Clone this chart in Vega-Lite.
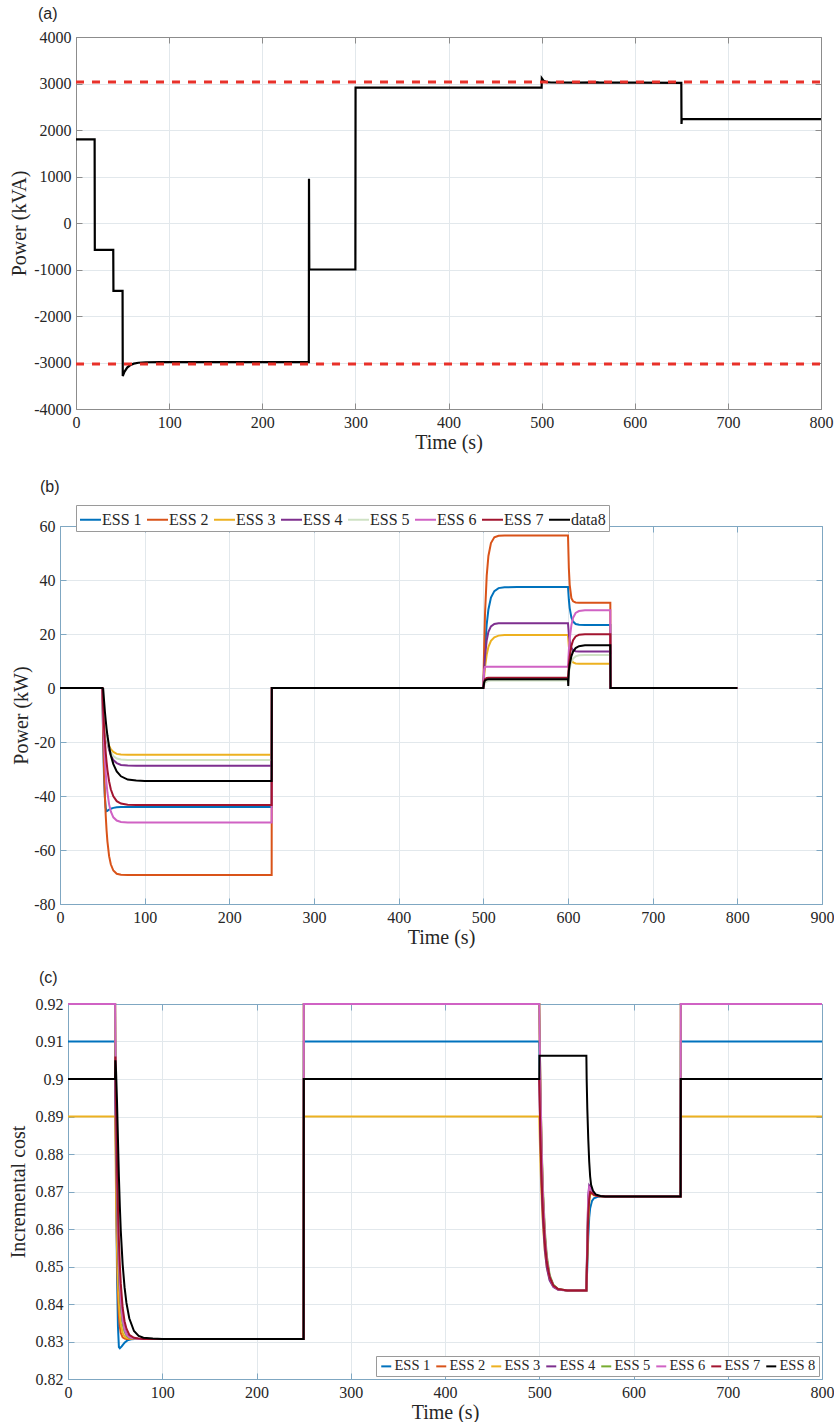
{
  "$schema": "https://vega.github.io/schema/vega-lite/v6.json",
  "padding": {"left": 8, "top": 6, "right": 0, "bottom": 0},
  "config": {
    "font": "Liberation Serif",
    "view": {"stroke": null},
    "axis": {"labelFont": "Liberation Serif", "labelFontSize": 16, "labelColor": "#262626", "titleFont": "Liberation Serif", "titleFontSize": 20, "titleFontWeight": "normal", "titleColor": "#262626", "labelFlush": false, "labelPadding": 11, "titlePadding": 2},
    "title": {"font": "Liberation Sans", "fontSize": 16, "fontWeight": "normal", "color": "#262626", "anchor": "start", "frame": "group"},
    "legend": {"labelFont": "Liberation Serif", "labelFontSize": 16, "labelColor": "#262626"}
  },
  "datasets": {
    "a": [
      {"t": 0, "p": 1800}, {"t": 20, "p": 1800}, {"t": 20.2, "p": -580}, {"t": 40, "p": -580}, {"t": 40.2, "p": -1460}, {"t": 50, "p": -1460},
      {"t": 50.2, "p": -3290}, {"t": 52, "p": -3200}, {"t": 55, "p": -3110}, {"t": 58, "p": -3060}, {"t": 62, "p": -3025}, {"t": 67, "p": -3005},
      {"t": 75, "p": -2995}, {"t": 90, "p": -2992}, {"t": 250, "p": -2990}, {"t": 250.2, "p": 950}, {"t": 250.5, "p": -1000}, {"t": 300, "p": -1000},
      {"t": 300.2, "p": 2910}, {"t": 500, "p": 2910}, {"t": 500.2, "p": 3110}, {"t": 502, "p": 3060}, {"t": 505, "p": 3030}, {"t": 510, "p": 3022},
      {"t": 540, "p": 3020}, {"t": 560, "p": 3025}, {"t": 562, "p": 3018}, {"t": 600, "p": 3018}, {"t": 650, "p": 3015}, {"t": 650.2, "p": 2130},
      {"t": 650.5, "p": 2235}, {"t": 800, "p": 2235}
    ],
    "alim": [
      {"t": 0, "p": 3030, "g": "upper"}, {"t": 800, "p": 3030, "g": "upper"},
      {"t": 0, "p": -3030, "g": "lower"}, {"t": 800, "p": -3030, "g": "lower"}
    ],
    "b": [
      {"s": "ESS 1", "t": 0, "p": 0}, {"s": "ESS 1", "t": 50, "p": 0}, {"s": "ESS 1", "t": 51, "p": -20}, {"s": "ESS 1", "t": 52, "p": -33}, {"s": "ESS 1", "t": 53, "p": -40.5}, {"s": "ESS 1", "t": 54, "p": -44.3}, {"s": "ESS 1", "t": 55, "p": -45.6}, {"s": "ESS 1", "t": 56, "p": -45.5}, {"s": "ESS 1", "t": 58, "p": -45}, {"s": "ESS 1", "t": 60, "p": -44.7}, {"s": "ESS 1", "t": 63, "p": -44.4}, {"s": "ESS 1", "t": 67, "p": -44.2}, {"s": "ESS 1", "t": 72, "p": -44.1}, {"s": "ESS 1", "t": 80, "p": -44.1}, {"s": "ESS 1", "t": 90, "p": -44.1}, {"s": "ESS 1", "t": 100, "p": -44.1}, {"s": "ESS 1", "t": 250, "p": -44.1}, {"s": "ESS 1", "t": 250.2, "p": 0},
      {"s": "ESS 1", "t": 500, "p": 0}, {"s": "ESS 1", "t": 501, "p": 8.3}, {"s": "ESS 1", "t": 502, "p": 14.7}, {"s": "ESS 1", "t": 504, "p": 23.6}, {"s": "ESS 1", "t": 506, "p": 29.1}, {"s": "ESS 1", "t": 509, "p": 33.5}, {"s": "ESS 1", "t": 513, "p": 35.9}, {"s": "ESS 1", "t": 518, "p": 37}, {"s": "ESS 1", "t": 525, "p": 37.3}, {"s": "ESS 1", "t": 540, "p": 37.4}, {"s": "ESS 1", "t": 600, "p": 37.4},
      {"s": "ESS 1", "t": 601, "p": 32.7}, {"s": "ESS 1", "t": 602, "p": 29.6}, {"s": "ESS 1", "t": 604, "p": 26.1}, {"s": "ESS 1", "t": 606, "p": 24.6}, {"s": "ESS 1", "t": 609, "p": 23.7}, {"s": "ESS 1", "t": 613, "p": 23.4}, {"s": "ESS 1", "t": 620, "p": 23.3}, {"s": "ESS 1", "t": 650, "p": 23.3}, {"s": "ESS 1", "t": 650.2, "p": 0}, {"s": "ESS 1", "t": 800, "p": 0},

      {"s": "ESS 2", "t": 0, "p": 0}, {"s": "ESS 2", "t": 50, "p": 0}, {"s": "ESS 2", "t": 51, "p": -17.3}, {"s": "ESS 2", "t": 52, "p": -30.1}, {"s": "ESS 2", "t": 53, "p": -39.9}, {"s": "ESS 2", "t": 54, "p": -47.2}, {"s": "ESS 2", "t": 55, "p": -52.7}, {"s": "ESS 2", "t": 56, "p": -56.8}, {"s": "ESS 2", "t": 58, "p": -62.3}, {"s": "ESS 2", "t": 60, "p": -65.3}, {"s": "ESS 2", "t": 63, "p": -67.6}, {"s": "ESS 2", "t": 67, "p": -68.8}, {"s": "ESS 2", "t": 72, "p": -69.2}, {"s": "ESS 2", "t": 80, "p": -69.3}, {"s": "ESS 2", "t": 250, "p": -69.3}, {"s": "ESS 2", "t": 250.2, "p": 0},
      {"s": "ESS 2", "t": 500, "p": 0}, {"s": "ESS 2", "t": 501, "p": 16}, {"s": "ESS 2", "t": 502, "p": 27.5}, {"s": "ESS 2", "t": 504, "p": 41.6}, {"s": "ESS 2", "t": 506, "p": 48.9}, {"s": "ESS 2", "t": 509, "p": 53.7}, {"s": "ESS 2", "t": 513, "p": 55.8}, {"s": "ESS 2", "t": 518, "p": 56.4}, {"s": "ESS 2", "t": 525, "p": 56.5}, {"s": "ESS 2", "t": 600, "p": 56.5},
      {"s": "ESS 2", "t": 601, "p": 44.4}, {"s": "ESS 2", "t": 602, "p": 38.2}, {"s": "ESS 2", "t": 604, "p": 33.3}, {"s": "ESS 2", "t": 606, "p": 32.1}, {"s": "ESS 2", "t": 609, "p": 31.7}, {"s": "ESS 2", "t": 613, "p": 31.6}, {"s": "ESS 2", "t": 650, "p": 31.6}, {"s": "ESS 2", "t": 650.2, "p": 0}, {"s": "ESS 2", "t": 800, "p": 0},

      {"s": "ESS 3", "t": 0, "p": 0}, {"s": "ESS 3", "t": 50, "p": 0}, {"s": "ESS 3", "t": 51, "p": -5.5}, {"s": "ESS 3", "t": 52, "p": -9.7}, {"s": "ESS 3", "t": 53, "p": -13}, {"s": "ESS 3", "t": 54, "p": -15.6}, {"s": "ESS 3", "t": 55, "p": -17.6}, {"s": "ESS 3", "t": 56, "p": -19.2}, {"s": "ESS 3", "t": 58, "p": -21.4}, {"s": "ESS 3", "t": 60, "p": -22.7}, {"s": "ESS 3", "t": 63, "p": -23.7}, {"s": "ESS 3", "t": 67, "p": -24.4}, {"s": "ESS 3", "t": 72, "p": -24.6}, {"s": "ESS 3", "t": 80, "p": -24.7}, {"s": "ESS 3", "t": 250, "p": -24.7}, {"s": "ESS 3", "t": 250.2, "p": 0},
      {"s": "ESS 3", "t": 500, "p": 0}, {"s": "ESS 3", "t": 501, "p": 4.3}, {"s": "ESS 3", "t": 502, "p": 7.7}, {"s": "ESS 3", "t": 504, "p": 12.4}, {"s": "ESS 3", "t": 506, "p": 15.2}, {"s": "ESS 3", "t": 509, "p": 17.5}, {"s": "ESS 3", "t": 513, "p": 18.8}, {"s": "ESS 3", "t": 518, "p": 19.4}, {"s": "ESS 3", "t": 525, "p": 19.6}, {"s": "ESS 3", "t": 600, "p": 19.6},
      {"s": "ESS 3", "t": 601, "p": 15.4}, {"s": "ESS 3", "t": 602, "p": 12.9}, {"s": "ESS 3", "t": 604, "p": 10.4}, {"s": "ESS 3", "t": 606, "p": 9.5}, {"s": "ESS 3", "t": 609, "p": 9.1}, {"s": "ESS 3", "t": 613, "p": 9}, {"s": "ESS 3", "t": 650, "p": 9}, {"s": "ESS 3", "t": 650.2, "p": 0}, {"s": "ESS 3", "t": 800, "p": 0},

      {"s": "ESS 4", "t": 0, "p": 0}, {"s": "ESS 4", "t": 50, "p": 0}, {"s": "ESS 4", "t": 51, "p": -5.2}, {"s": "ESS 4", "t": 52, "p": -9.5}, {"s": "ESS 4", "t": 53, "p": -13}, {"s": "ESS 4", "t": 54, "p": -15.9}, {"s": "ESS 4", "t": 55, "p": -18.2}, {"s": "ESS 4", "t": 56, "p": -20.1}, {"s": "ESS 4", "t": 58, "p": -23}, {"s": "ESS 4", "t": 60, "p": -24.9}, {"s": "ESS 4", "t": 63, "p": -26.7}, {"s": "ESS 4", "t": 67, "p": -27.8}, {"s": "ESS 4", "t": 72, "p": -28.5}, {"s": "ESS 4", "t": 80, "p": -28.7}, {"s": "ESS 4", "t": 90, "p": -28.8}, {"s": "ESS 4", "t": 250, "p": -28.8}, {"s": "ESS 4", "t": 250.2, "p": 0},
      {"s": "ESS 4", "t": 500, "p": 0}, {"s": "ESS 4", "t": 501, "p": 6.8}, {"s": "ESS 4", "t": 502, "p": 11.7}, {"s": "ESS 4", "t": 504, "p": 17.7}, {"s": "ESS 4", "t": 506, "p": 20.8}, {"s": "ESS 4", "t": 509, "p": 22.8}, {"s": "ESS 4", "t": 513, "p": 23.7}, {"s": "ESS 4", "t": 518, "p": 24}, {"s": "ESS 4", "t": 600, "p": 24},
      {"s": "ESS 4", "t": 601, "p": 19.9}, {"s": "ESS 4", "t": 602, "p": 17.4}, {"s": "ESS 4", "t": 604, "p": 14.9}, {"s": "ESS 4", "t": 606, "p": 14}, {"s": "ESS 4", "t": 609, "p": 13.6}, {"s": "ESS 4", "t": 613, "p": 13.5}, {"s": "ESS 4", "t": 650, "p": 13.5}, {"s": "ESS 4", "t": 650.2, "p": 0}, {"s": "ESS 4", "t": 800, "p": 0},

      {"s": "ESS 5", "t": 0, "p": 0}, {"s": "ESS 5", "t": 50, "p": 0}, {"s": "ESS 5", "t": 51, "p": -5.3}, {"s": "ESS 5", "t": 52, "p": -9.6}, {"s": "ESS 5", "t": 53, "p": -13}, {"s": "ESS 5", "t": 54, "p": -15.7}, {"s": "ESS 5", "t": 55, "p": -17.9}, {"s": "ESS 5", "t": 56, "p": -19.7}, {"s": "ESS 5", "t": 58, "p": -22.2}, {"s": "ESS 5", "t": 60, "p": -23.8}, {"s": "ESS 5", "t": 63, "p": -25.2}, {"s": "ESS 5", "t": 67, "p": -26.1}, {"s": "ESS 5", "t": 72, "p": -26.5}, {"s": "ESS 5", "t": 80, "p": -26.7}, {"s": "ESS 5", "t": 250, "p": -26.7}, {"s": "ESS 5", "t": 250.2, "p": 0},
      {"s": "ESS 5", "t": 500, "p": 0}, {"s": "ESS 5", "t": 501, "p": 1.1}, {"s": "ESS 5", "t": 502, "p": 1.8}, {"s": "ESS 5", "t": 504, "p": 2.4}, {"s": "ESS 5", "t": 506, "p": 2.7}, {"s": "ESS 5", "t": 509, "p": 2.8}, {"s": "ESS 5", "t": 600, "p": 2.8},
      {"s": "ESS 5", "t": 601, "p": 5.5}, {"s": "ESS 5", "t": 602, "p": 7.4}, {"s": "ESS 5", "t": 604, "p": 9.7}, {"s": "ESS 5", "t": 606, "p": 10.9}, {"s": "ESS 5", "t": 609, "p": 11.7}, {"s": "ESS 5", "t": 613, "p": 12.1}, {"s": "ESS 5", "t": 620, "p": 12.2}, {"s": "ESS 5", "t": 650, "p": 12.2}, {"s": "ESS 5", "t": 650.2, "p": 0}, {"s": "ESS 5", "t": 800, "p": 0},

      {"s": "ESS 6", "t": 0, "p": 0}, {"s": "ESS 6", "t": 50, "p": 0}, {"s": "ESS 6", "t": 51, "p": -11}, {"s": "ESS 6", "t": 52, "p": -19.6}, {"s": "ESS 6", "t": 53, "p": -26.3}, {"s": "ESS 6", "t": 54, "p": -31.5}, {"s": "ESS 6", "t": 55, "p": -35.5}, {"s": "ESS 6", "t": 56, "p": -38.7}, {"s": "ESS 6", "t": 58, "p": -43.1}, {"s": "ESS 6", "t": 60, "p": -45.7}, {"s": "ESS 6", "t": 63, "p": -47.9}, {"s": "ESS 6", "t": 67, "p": -49.1}, {"s": "ESS 6", "t": 72, "p": -49.6}, {"s": "ESS 6", "t": 80, "p": -49.8}, {"s": "ESS 6", "t": 250, "p": -49.8}, {"s": "ESS 6", "t": 250.2, "p": 0},
      {"s": "ESS 6", "t": 500, "p": 0}, {"s": "ESS 6", "t": 501, "p": 6.8}, {"s": "ESS 6", "t": 502, "p": 7.8}, {"s": "ESS 6", "t": 504, "p": 7.9}, {"s": "ESS 6", "t": 600, "p": 7.9},
      {"s": "ESS 6", "t": 601, "p": 13.8}, {"s": "ESS 6", "t": 602, "p": 18.1}, {"s": "ESS 6", "t": 604, "p": 23.3}, {"s": "ESS 6", "t": 606, "p": 26}, {"s": "ESS 6", "t": 609, "p": 27.8}, {"s": "ESS 6", "t": 613, "p": 28.5}, {"s": "ESS 6", "t": 620, "p": 28.8}, {"s": "ESS 6", "t": 650, "p": 28.8}, {"s": "ESS 6", "t": 650.2, "p": 0}, {"s": "ESS 6", "t": 800, "p": 0},

      {"s": "ESS 7", "t": 0, "p": 0}, {"s": "ESS 7", "t": 50, "p": 0}, {"s": "ESS 7", "t": 51, "p": -7.8}, {"s": "ESS 7", "t": 52, "p": -14.3}, {"s": "ESS 7", "t": 53, "p": -19.5}, {"s": "ESS 7", "t": 54, "p": -23.9}, {"s": "ESS 7", "t": 55, "p": -27.4}, {"s": "ESS 7", "t": 56, "p": -30.3}, {"s": "ESS 7", "t": 58, "p": -34.6}, {"s": "ESS 7", "t": 60, "p": -37.5}, {"s": "ESS 7", "t": 63, "p": -40.1}, {"s": "ESS 7", "t": 67, "p": -41.9}, {"s": "ESS 7", "t": 72, "p": -42.8}, {"s": "ESS 7", "t": 80, "p": -43.2}, {"s": "ESS 7", "t": 90, "p": -43.3}, {"s": "ESS 7", "t": 250, "p": -43.3}, {"s": "ESS 7", "t": 250.2, "p": 0},
      {"s": "ESS 7", "t": 500, "p": 0}, {"s": "ESS 7", "t": 501, "p": 2.4}, {"s": "ESS 7", "t": 502, "p": 3.3}, {"s": "ESS 7", "t": 504, "p": 3.7}, {"s": "ESS 7", "t": 506, "p": 3.8}, {"s": "ESS 7", "t": 600, "p": 3.8},
      {"s": "ESS 7", "t": 601, "p": 8.4}, {"s": "ESS 7", "t": 602, "p": 11.6}, {"s": "ESS 7", "t": 604, "p": 15.6}, {"s": "ESS 7", "t": 606, "p": 17.7}, {"s": "ESS 7", "t": 609, "p": 19.1}, {"s": "ESS 7", "t": 613, "p": 19.7}, {"s": "ESS 7", "t": 620, "p": 19.9}, {"s": "ESS 7", "t": 650, "p": 19.9}, {"s": "ESS 7", "t": 650.2, "p": 0}, {"s": "ESS 7", "t": 800, "p": 0},

      {"s": "data8", "t": 0, "p": 0}, {"s": "data8", "t": 50, "p": 0}, {"s": "data8", "t": 51, "p": -0.3}, {"s": "data8", "t": 52, "p": -4.6}, {"s": "data8", "t": 53, "p": -8.6}, {"s": "data8", "t": 54, "p": -12}, {"s": "data8", "t": 55, "p": -15}, {"s": "data8", "t": 56, "p": -17.5}, {"s": "data8", "t": 58, "p": -21.7}, {"s": "data8", "t": 60, "p": -24.9}, {"s": "data8", "t": 63, "p": -28.2}, {"s": "data8", "t": 67, "p": -30.9}, {"s": "data8", "t": 72, "p": -32.7}, {"s": "data8", "t": 80, "p": -33.9}, {"s": "data8", "t": 90, "p": -34.3}, {"s": "data8", "t": 100, "p": -34.4}, {"s": "data8", "t": 250, "p": -34.4}, {"s": "data8", "t": 250.2, "p": 0},
      {"s": "data8", "t": 500, "p": 0}, {"s": "data8", "t": 501, "p": 2}, {"s": "data8", "t": 502, "p": 2.8}, {"s": "data8", "t": 504, "p": 3.1}, {"s": "data8", "t": 506, "p": 3.2}, {"s": "data8", "t": 600, "p": 3.2}, {"s": "data8", "t": 600.3, "p": 0.8},
      {"s": "data8", "t": 601, "p": 6.3}, {"s": "data8", "t": 602, "p": 8.7}, {"s": "data8", "t": 604, "p": 11.8}, {"s": "data8", "t": 606, "p": 13.5}, {"s": "data8", "t": 609, "p": 14.8}, {"s": "data8", "t": 613, "p": 15.5}, {"s": "data8", "t": 620, "p": 15.8}, {"s": "data8", "t": 650, "p": 15.8}, {"s": "data8", "t": 650.2, "p": 0}, {"s": "data8", "t": 800, "p": 0}
    ],
    "c": [
      {"s": "ESS 1", "t": 0, "v": 0.91}, {"s": "ESS 1", "t": 50, "v": 0.91}, {"s": "ESS 1", "t": 51, "v": 0.875}, {"s": "ESS 1", "t": 52, "v": 0.848}, {"s": "ESS 1", "t": 53, "v": 0.834}, {"s": "ESS 1", "t": 54, "v": 0.8285}, {"s": "ESS 1", "t": 55, "v": 0.8282}, {"s": "ESS 1", "t": 57, "v": 0.8287}, {"s": "ESS 1", "t": 60, "v": 0.8297}, {"s": "ESS 1", "t": 63, "v": 0.8303}, {"s": "ESS 1", "t": 67, "v": 0.8306}, {"s": "ESS 1", "t": 75, "v": 0.8307}, {"s": "ESS 1", "t": 250, "v": 0.8307}, {"s": "ESS 1", "t": 250.2, "v": 0.91},
      {"s": "ESS 1", "t": 500, "v": 0.91}, {"s": "ESS 1", "t": 501, "v": 0.8947}, {"s": "ESS 1", "t": 502, "v": 0.8828}, {"s": "ESS 1", "t": 503, "v": 0.8737}, {"s": "ESS 1", "t": 504, "v": 0.8668}, {"s": "ESS 1", "t": 506, "v": 0.8573}, {"s": "ESS 1", "t": 508, "v": 0.8517}, {"s": "ESS 1", "t": 511, "v": 0.8473}, {"s": "ESS 1", "t": 515, "v": 0.8449}, {"s": "ESS 1", "t": 520, "v": 0.8439}, {"s": "ESS 1", "t": 530, "v": 0.8436}, {"s": "ESS 1", "t": 550, "v": 0.8436},
      {"s": "ESS 1", "t": 551, "v": 0.85}, {"s": "ESS 1", "t": 552, "v": 0.858}, {"s": "ESS 1", "t": 553, "v": 0.863}, {"s": "ESS 1", "t": 554, "v": 0.8655}, {"s": "ESS 1", "t": 556, "v": 0.8675}, {"s": "ESS 1", "t": 558, "v": 0.8682}, {"s": "ESS 1", "t": 562, "v": 0.8686}, {"s": "ESS 1", "t": 570, "v": 0.8687}, {"s": "ESS 1", "t": 650, "v": 0.8687}, {"s": "ESS 1", "t": 650.2, "v": 0.91}, {"s": "ESS 1", "t": 800, "v": 0.91},

      {"s": "ESS 2", "t": 0, "v": 0.92}, {"s": "ESS 2", "t": 50, "v": 0.92}, {"s": "ESS 2", "t": 50.3, "v": 0.9038}, {"s": "ESS 2", "t": 51, "v": 0.8765}, {"s": "ESS 2", "t": 52, "v": 0.8542}, {"s": "ESS 2", "t": 53, "v": 0.8428}, {"s": "ESS 2", "t": 54, "v": 0.8369}, {"s": "ESS 2", "t": 55, "v": 0.8339}, {"s": "ESS 2", "t": 56, "v": 0.8323}, {"s": "ESS 2", "t": 58, "v": 0.8311}, {"s": "ESS 2", "t": 60, "v": 0.8308}, {"s": "ESS 2", "t": 62, "v": 0.8307}, {"s": "ESS 2", "t": 250, "v": 0.8307}, {"s": "ESS 2", "t": 250.2, "v": 0.92},
      {"s": "ESS 2", "t": 500, "v": 0.92}, {"s": "ESS 2", "t": 501, "v": 0.9014}, {"s": "ESS 2", "t": 502, "v": 0.8875}, {"s": "ESS 2", "t": 503, "v": 0.8768}, {"s": "ESS 2", "t": 504, "v": 0.8687}, {"s": "ESS 2", "t": 506, "v": 0.858}, {"s": "ESS 2", "t": 508, "v": 0.8519}, {"s": "ESS 2", "t": 511, "v": 0.8472}, {"s": "ESS 2", "t": 515, "v": 0.8448}, {"s": "ESS 2", "t": 520, "v": 0.8439}, {"s": "ESS 2", "t": 530, "v": 0.8436}, {"s": "ESS 2", "t": 550, "v": 0.8436},
      {"s": "ESS 2", "t": 551, "v": 0.855}, {"s": "ESS 2", "t": 552, "v": 0.865}, {"s": "ESS 2", "t": 553, "v": 0.869}, {"s": "ESS 2", "t": 554, "v": 0.8702}, {"s": "ESS 2", "t": 556, "v": 0.8697}, {"s": "ESS 2", "t": 558, "v": 0.8692}, {"s": "ESS 2", "t": 562, "v": 0.8688}, {"s": "ESS 2", "t": 570, "v": 0.8687}, {"s": "ESS 2", "t": 650, "v": 0.8687}, {"s": "ESS 2", "t": 650.2, "v": 0.92}, {"s": "ESS 2", "t": 800, "v": 0.92},

      {"s": "ESS 3", "t": 0, "v": 0.89}, {"s": "ESS 3", "t": 50, "v": 0.89}, {"s": "ESS 3", "t": 51, "v": 0.8684}, {"s": "ESS 3", "t": 52, "v": 0.8546}, {"s": "ESS 3", "t": 53, "v": 0.8459}, {"s": "ESS 3", "t": 54, "v": 0.8403}, {"s": "ESS 3", "t": 55, "v": 0.8368}, {"s": "ESS 3", "t": 56, "v": 0.8346}, {"s": "ESS 3", "t": 58, "v": 0.8323}, {"s": "ESS 3", "t": 60, "v": 0.8313}, {"s": "ESS 3", "t": 62, "v": 0.831}, {"s": "ESS 3", "t": 65, "v": 0.8308}, {"s": "ESS 3", "t": 70, "v": 0.8307}, {"s": "ESS 3", "t": 250, "v": 0.8307}, {"s": "ESS 3", "t": 250.2, "v": 0.89},
      {"s": "ESS 3", "t": 500, "v": 0.89}, {"s": "ESS 3", "t": 501, "v": 0.8797}, {"s": "ESS 3", "t": 502, "v": 0.8718}, {"s": "ESS 3", "t": 503, "v": 0.8655}, {"s": "ESS 3", "t": 504, "v": 0.8607}, {"s": "ESS 3", "t": 506, "v": 0.8539}, {"s": "ESS 3", "t": 508, "v": 0.8499}, {"s": "ESS 3", "t": 511, "v": 0.8466}, {"s": "ESS 3", "t": 515, "v": 0.8447}, {"s": "ESS 3", "t": 520, "v": 0.8439}, {"s": "ESS 3", "t": 530, "v": 0.8436}, {"s": "ESS 3", "t": 550, "v": 0.8436},
      {"s": "ESS 3", "t": 551, "v": 0.853}, {"s": "ESS 3", "t": 552, "v": 0.862}, {"s": "ESS 3", "t": 553, "v": 0.867}, {"s": "ESS 3", "t": 554, "v": 0.8692}, {"s": "ESS 3", "t": 556, "v": 0.8694}, {"s": "ESS 3", "t": 558, "v": 0.869}, {"s": "ESS 3", "t": 562, "v": 0.8688}, {"s": "ESS 3", "t": 570, "v": 0.8687}, {"s": "ESS 3", "t": 650, "v": 0.8687}, {"s": "ESS 3", "t": 650.2, "v": 0.89}, {"s": "ESS 3", "t": 800, "v": 0.89},

      {"s": "ESS 4", "t": 0, "v": 0.9}, {"s": "ESS 4", "t": 50, "v": 0.9}, {"s": "ESS 4", "t": 50.3, "v": 0.8934}, {"s": "ESS 4", "t": 51, "v": 0.8804}, {"s": "ESS 4", "t": 52, "v": 0.8663}, {"s": "ESS 4", "t": 53, "v": 0.8562}, {"s": "ESS 4", "t": 54, "v": 0.849}, {"s": "ESS 4", "t": 55, "v": 0.8438}, {"s": "ESS 4", "t": 56, "v": 0.8401}, {"s": "ESS 4", "t": 58, "v": 0.8355}, {"s": "ESS 4", "t": 60, "v": 0.8332}, {"s": "ESS 4", "t": 62, "v": 0.832}, {"s": "ESS 4", "t": 65, "v": 0.8312}, {"s": "ESS 4", "t": 70, "v": 0.8308}, {"s": "ESS 4", "t": 75, "v": 0.8307}, {"s": "ESS 4", "t": 250, "v": 0.8307}, {"s": "ESS 4", "t": 250.2, "v": 0.9},
      {"s": "ESS 4", "t": 500, "v": 0.9}, {"s": "ESS 4", "t": 501, "v": 0.8863}, {"s": "ESS 4", "t": 502, "v": 0.876}, {"s": "ESS 4", "t": 503, "v": 0.8681}, {"s": "ESS 4", "t": 504, "v": 0.8622}, {"s": "ESS 4", "t": 506, "v": 0.8543}, {"s": "ESS 4", "t": 508, "v": 0.8497}, {"s": "ESS 4", "t": 511, "v": 0.8463}, {"s": "ESS 4", "t": 515, "v": 0.8445}, {"s": "ESS 4", "t": 520, "v": 0.8438}, {"s": "ESS 4", "t": 530, "v": 0.8436}, {"s": "ESS 4", "t": 550, "v": 0.8436},
      {"s": "ESS 4", "t": 551, "v": 0.858}, {"s": "ESS 4", "t": 552, "v": 0.869}, {"s": "ESS 4", "t": 553, "v": 0.8716}, {"s": "ESS 4", "t": 554, "v": 0.8712}, {"s": "ESS 4", "t": 556, "v": 0.87}, {"s": "ESS 4", "t": 558, "v": 0.8693}, {"s": "ESS 4", "t": 562, "v": 0.8689}, {"s": "ESS 4", "t": 570, "v": 0.8687}, {"s": "ESS 4", "t": 650, "v": 0.8687}, {"s": "ESS 4", "t": 650.2, "v": 0.9}, {"s": "ESS 4", "t": 800, "v": 0.9},

      {"s": "ESS 5", "t": 0, "v": 0.92}, {"s": "ESS 5", "t": 50, "v": 0.92}, {"s": "ESS 5", "t": 50.3, "v": 0.9103}, {"s": "ESS 5", "t": 51, "v": 0.8915}, {"s": "ESS 5", "t": 52, "v": 0.8721}, {"s": "ESS 5", "t": 53, "v": 0.8589}, {"s": "ESS 5", "t": 54, "v": 0.8499}, {"s": "ESS 5", "t": 55, "v": 0.8438}, {"s": "ESS 5", "t": 56, "v": 0.8396}, {"s": "ESS 5", "t": 58, "v": 0.8348}, {"s": "ESS 5", "t": 60, "v": 0.8326}, {"s": "ESS 5", "t": 62, "v": 0.8316}, {"s": "ESS 5", "t": 65, "v": 0.831}, {"s": "ESS 5", "t": 70, "v": 0.8307}, {"s": "ESS 5", "t": 250, "v": 0.8307}, {"s": "ESS 5", "t": 250.2, "v": 0.92},
      {"s": "ESS 5", "t": 500, "v": 0.92}, {"s": "ESS 5", "t": 501, "v": 0.9023}, {"s": "ESS 5", "t": 502, "v": 0.8888}, {"s": "ESS 5", "t": 503, "v": 0.8783}, {"s": "ESS 5", "t": 504, "v": 0.8703}, {"s": "ESS 5", "t": 506, "v": 0.8593}, {"s": "ESS 5", "t": 508, "v": 0.8529}, {"s": "ESS 5", "t": 511, "v": 0.8478}, {"s": "ESS 5", "t": 515, "v": 0.8451}, {"s": "ESS 5", "t": 520, "v": 0.844}, {"s": "ESS 5", "t": 530, "v": 0.8436}, {"s": "ESS 5", "t": 550, "v": 0.8436},
      {"s": "ESS 5", "t": 551, "v": 0.856}, {"s": "ESS 5", "t": 552, "v": 0.866}, {"s": "ESS 5", "t": 553, "v": 0.87}, {"s": "ESS 5", "t": 554, "v": 0.8706}, {"s": "ESS 5", "t": 556, "v": 0.8698}, {"s": "ESS 5", "t": 558, "v": 0.8692}, {"s": "ESS 5", "t": 562, "v": 0.8688}, {"s": "ESS 5", "t": 570, "v": 0.8687}, {"s": "ESS 5", "t": 650, "v": 0.8687}, {"s": "ESS 5", "t": 650.2, "v": 0.92}, {"s": "ESS 5", "t": 800, "v": 0.92},

      {"s": "ESS 6", "t": 0, "v": 0.92}, {"s": "ESS 6", "t": 50, "v": 0.92}, {"s": "ESS 6", "t": 50.3, "v": 0.9109}, {"s": "ESS 6", "t": 51, "v": 0.8932}, {"s": "ESS 6", "t": 52, "v": 0.8744}, {"s": "ESS 6", "t": 53, "v": 0.8613}, {"s": "ESS 6", "t": 54, "v": 0.8521}, {"s": "ESS 6", "t": 55, "v": 0.8457}, {"s": "ESS 6", "t": 56, "v": 0.8412}, {"s": "ESS 6", "t": 58, "v": 0.8358}, {"s": "ESS 6", "t": 60, "v": 0.8332}, {"s": "ESS 6", "t": 62, "v": 0.8319}, {"s": "ESS 6", "t": 65, "v": 0.8311}, {"s": "ESS 6", "t": 70, "v": 0.8308}, {"s": "ESS 6", "t": 75, "v": 0.8307}, {"s": "ESS 6", "t": 250, "v": 0.8307}, {"s": "ESS 6", "t": 250.2, "v": 0.92},
      {"s": "ESS 6", "t": 500, "v": 0.92}, {"s": "ESS 6", "t": 501, "v": 0.9014}, {"s": "ESS 6", "t": 502, "v": 0.8875}, {"s": "ESS 6", "t": 503, "v": 0.8768}, {"s": "ESS 6", "t": 504, "v": 0.8687}, {"s": "ESS 6", "t": 506, "v": 0.858}, {"s": "ESS 6", "t": 508, "v": 0.8519}, {"s": "ESS 6", "t": 511, "v": 0.8472}, {"s": "ESS 6", "t": 515, "v": 0.8448}, {"s": "ESS 6", "t": 520, "v": 0.8439}, {"s": "ESS 6", "t": 530, "v": 0.8436}, {"s": "ESS 6", "t": 550, "v": 0.8436},
      {"s": "ESS 6", "t": 551, "v": 0.857}, {"s": "ESS 6", "t": 552, "v": 0.868}, {"s": "ESS 6", "t": 553, "v": 0.8712}, {"s": "ESS 6", "t": 554, "v": 0.871}, {"s": "ESS 6", "t": 556, "v": 0.8699}, {"s": "ESS 6", "t": 558, "v": 0.8692}, {"s": "ESS 6", "t": 562, "v": 0.8688}, {"s": "ESS 6", "t": 570, "v": 0.8687}, {"s": "ESS 6", "t": 650, "v": 0.8687}, {"s": "ESS 6", "t": 650.2, "v": 0.92}, {"s": "ESS 6", "t": 800, "v": 0.92},

      {"s": "ESS 7", "t": 0, "v": 0.9}, {"s": "ESS 7", "t": 50, "v": 0.9}, {"s": "ESS 7", "t": 50.3, "v": 0.906}, {"s": "ESS 7", "t": 51, "v": 0.8924}, {"s": "ESS 7", "t": 52, "v": 0.877}, {"s": "ESS 7", "t": 53, "v": 0.8655}, {"s": "ESS 7", "t": 54, "v": 0.8568}, {"s": "ESS 7", "t": 55, "v": 0.8504}, {"s": "ESS 7", "t": 56, "v": 0.8455}, {"s": "ESS 7", "t": 58, "v": 0.839}, {"s": "ESS 7", "t": 60, "v": 0.8354}, {"s": "ESS 7", "t": 62, "v": 0.8334}, {"s": "ESS 7", "t": 65, "v": 0.8318}, {"s": "ESS 7", "t": 70, "v": 0.831}, {"s": "ESS 7", "t": 75, "v": 0.8308}, {"s": "ESS 7", "t": 80, "v": 0.8307}, {"s": "ESS 7", "t": 250, "v": 0.8307}, {"s": "ESS 7", "t": 250.2, "v": 0.9},
      {"s": "ESS 7", "t": 500, "v": 0.9}, {"s": "ESS 7", "t": 501, "v": 0.8875}, {"s": "ESS 7", "t": 502, "v": 0.8778}, {"s": "ESS 7", "t": 503, "v": 0.8702}, {"s": "ESS 7", "t": 504, "v": 0.8644}, {"s": "ESS 7", "t": 506, "v": 0.8562}, {"s": "ESS 7", "t": 508, "v": 0.8512}, {"s": "ESS 7", "t": 511, "v": 0.8472}, {"s": "ESS 7", "t": 515, "v": 0.8449}, {"s": "ESS 7", "t": 520, "v": 0.844}, {"s": "ESS 7", "t": 530, "v": 0.8436}, {"s": "ESS 7", "t": 550, "v": 0.8436},
      {"s": "ESS 7", "t": 551, "v": 0.854}, {"s": "ESS 7", "t": 552, "v": 0.864}, {"s": "ESS 7", "t": 553, "v": 0.868}, {"s": "ESS 7", "t": 554, "v": 0.8698}, {"s": "ESS 7", "t": 556, "v": 0.8696}, {"s": "ESS 7", "t": 558, "v": 0.8691}, {"s": "ESS 7", "t": 562, "v": 0.8688}, {"s": "ESS 7", "t": 570, "v": 0.8687}, {"s": "ESS 7", "t": 650, "v": 0.8687}, {"s": "ESS 7", "t": 650.2, "v": 0.9}, {"s": "ESS 7", "t": 800, "v": 0.9},

      {"s": "ESS 8", "t": 0, "v": 0.9}, {"s": "ESS 8", "t": 50, "v": 0.9}, {"s": "ESS 8", "t": 50.3, "v": 0.905}, {"s": "ESS 8", "t": 51, "v": 0.902}, {"s": "ESS 8", "t": 52, "v": 0.894}, {"s": "ESS 8", "t": 53, "v": 0.884}, {"s": "ESS 8", "t": 54, "v": 0.874}, {"s": "ESS 8", "t": 55, "v": 0.866}, {"s": "ESS 8", "t": 56, "v": 0.8595}, {"s": "ESS 8", "t": 58, "v": 0.8505}, {"s": "ESS 8", "t": 60, "v": 0.8445}, {"s": "ESS 8", "t": 62, "v": 0.8403}, {"s": "ESS 8", "t": 65, "v": 0.8362}, {"s": "ESS 8", "t": 70, "v": 0.8328}, {"s": "ESS 8", "t": 75, "v": 0.8315}, {"s": "ESS 8", "t": 80, "v": 0.831}, {"s": "ESS 8", "t": 90, "v": 0.8308}, {"s": "ESS 8", "t": 100, "v": 0.8307}, {"s": "ESS 8", "t": 250, "v": 0.8307}, {"s": "ESS 8", "t": 250.2, "v": 0.9},
      {"s": "ESS 8", "t": 500, "v": 0.9}, {"s": "ESS 8", "t": 500.2, "v": 0.9062}, {"s": "ESS 8", "t": 550, "v": 0.9062}, {"s": "ESS 8", "t": 550.3, "v": 0.9}, {"s": "ESS 8", "t": 551, "v": 0.892}, {"s": "ESS 8", "t": 552, "v": 0.884}, {"s": "ESS 8", "t": 553, "v": 0.878}, {"s": "ESS 8", "t": 554, "v": 0.874}, {"s": "ESS 8", "t": 555, "v": 0.8718}, {"s": "ESS 8", "t": 557, "v": 0.8702}, {"s": "ESS 8", "t": 560, "v": 0.8692}, {"s": "ESS 8", "t": 565, "v": 0.8688}, {"s": "ESS 8", "t": 570, "v": 0.8687}, {"s": "ESS 8", "t": 650, "v": 0.8687}, {"s": "ESS 8", "t": 650.2, "v": 0.9}, {"s": "ESS 8", "t": 800, "v": 0.9}
    ],
    "blank": [{"k": 0}]
  },
  "spacing": 26,
  "resolve": {"scale": {"color": "independent"}, "legend": {"color": "independent"}},
  "vconcat": [
    {
      "hconcat": [
        {"width": 16, "height": 1, "data": {"name": "blank"}, "mark": {"type": "point", "opacity": 0}, "encoding": {}},
        {
          "width": 745, "height": 372,
          "title": {"text": "(a)", "dx": -38, "offset": 7},
          "resolve": {"axis": {"x": "independent", "y": "independent"}},
          "layer": [
            {
              "data": {"name": "a"},
              "mark": {"type": "line", "color": "#000000", "strokeWidth": 2.2},
              "encoding": {
                "x": {"field": "t", "type": "quantitative", "scale": {"domain": [0, 800], "nice": false, "zero": false},
                  "axis": {"orient": "bottom", "values": [0, 100, 200, 300, 400, 500, 600, 700, 800], "title": "Time (s)", "grid": true, "gridColor": "#e2e8ec", "domainColor": "#8c8c8c", "tickColor": "#8c8c8c", "tickSize": -6}},
                "y": {"field": "p", "type": "quantitative", "scale": {"domain": [-4000, 4000], "nice": false, "zero": false},
                  "axis": {"orient": "left", "values": [-4000, -3000, -2000, -1000, 0, 1000, 2000, 3000, 4000], "title": "Power (kVA)", "grid": true, "gridColor": "#e2e8ec", "domainColor": "#8c8c8c", "tickColor": "#8c8c8c", "tickSize": -6, "titlePadding": 4,
                    "labelExpr": "datum.value < 0 ? '-' + format(-datum.value, 'd') : format(datum.value, 'd')"}}
              }
            },
            {
              "data": {"name": "alim"},
              "mark": {"type": "line", "color": "#e8312a", "strokeWidth": 3, "strokeDash": [8, 8]},
              "encoding": {
                "x": {"field": "t", "type": "quantitative", "axis": null},
                "y": {"field": "p", "type": "quantitative", "axis": null},
                "detail": {"field": "g"}
              }
            },
            {
              "data": {"name": "a"},
              "mark": {"type": "point", "opacity": 0},
              "encoding": {
                "x": {"field": "t", "type": "quantitative", "axis": {"orient": "top", "labels": false, "title": null, "grid": false, "domainColor": "#8c8c8c", "tickColor": "#8c8c8c", "tickSize": -6, "values": [0, 100, 200, 300, 400, 500, 600, 700, 800]}},
                "y": {"field": "p", "type": "quantitative", "axis": {"orient": "right", "labels": false, "title": null, "grid": false, "domainColor": "#8c8c8c", "tickColor": "#8c8c8c", "tickSize": -6, "values": [-4000, -3000, -2000, -1000, 0, 1000, 2000, 3000, 4000]}}
              }
            }
          ]
        }
      ],
      "spacing": 0,
      "bounds": "flush"
    },
    {
      "spacing": 23,
      "resolve": {"scale": {"color": "independent"}, "legend": {"color": "independent"}},
      "vconcat": [
        {
          "width": 762, "height": 378,
          "title": {"text": "(b)", "dx": -20, "offset": 10},
          "resolve": {"axis": {"x": "independent", "y": "independent"}},
          "layer": [
            {
              "data": {"name": "b"},
              "mark": {"type": "line", "strokeWidth": 2},
              "encoding": {
                "x": {"field": "t", "type": "quantitative", "scale": {"domain": [0, 900], "nice": false, "zero": false},
                  "axis": {"orient": "bottom", "values": [0, 100, 200, 300, 400, 500, 600, 700, 800, 900], "title": "Time (s)", "grid": true, "gridColor": "#e2e8ec", "domainColor": "#7fa7c2", "tickColor": "#7fa7c2", "tickSize": -6}},
                "y": {"field": "p", "type": "quantitative", "scale": {"domain": [-80, 60], "nice": false, "zero": false},
                  "axis": {"orient": "left", "values": [-80, -60, -40, -20, 0, 20, 40, 60], "title": "Power (kW)", "grid": true, "gridColor": "#e2e8ec", "domainColor": "#7fa7c2", "tickColor": "#7fa7c2", "tickSize": -6, "titlePadding": 2,
                    "labelExpr": "datum.value < 0 ? '-' + format(-datum.value, 'd') : format(datum.value, 'd')"}},
                "color": {"field": "s", "type": "nominal",
                  "scale": {"domain": ["ESS 1", "ESS 2", "ESS 3", "ESS 4", "ESS 5", "ESS 6", "ESS 7", "data8"], "range": ["#0072BD", "#D95319", "#EDB120", "#7E2F8E", "#cfe2c4", "#D062C4", "#A2142F", "#000000"]},
                  "legend": {"orient": "none", "legendX": 16, "legendY": -21, "direction": "horizontal", "columns": 8, "title": null, "symbolType": "stroke", "symbolSize": 441, "symbolStrokeWidth": 2, "labelOffset": 0, "columnPadding": 1, "padding": 3, "fillColor": "#ffffff", "strokeColor": "#9a9a9a"}}
              }
            },
            {
              "data": {"name": "b"},
              "mark": {"type": "point", "opacity": 0},
              "encoding": {
                "x": {"field": "t", "type": "quantitative", "axis": {"orient": "top", "labels": false, "title": null, "grid": false, "domainColor": "#7fa7c2", "tickColor": "#7fa7c2", "tickSize": -6, "values": [0, 100, 200, 300, 400, 500, 600, 700, 800, 900]}},
                "y": {"field": "p", "type": "quantitative", "axis": {"orient": "right", "labels": false, "title": null, "grid": false, "domainColor": "#7fa7c2", "tickColor": "#7fa7c2", "tickSize": -6, "values": [-80, -60, -40, -20, 0, 20, 40, 60]}}
              }
            }
          ]
        },
        {
          "hconcat": [
            {"width": 8, "height": 1, "data": {"name": "blank"}, "mark": {"type": "point", "opacity": 0}, "encoding": {}},
            {
              "width": 754, "height": 375,
              "title": {"text": "(c)", "dx": -29, "offset": 10},
              "resolve": {"axis": {"x": "independent", "y": "independent"}},
              "layer": [
                {
                  "data": {"name": "c"},
                  "mark": {"type": "line", "strokeWidth": 2},
                  "encoding": {
                    "x": {"field": "t", "type": "quantitative", "scale": {"domain": [0, 800], "nice": false, "zero": false},
                      "axis": {"orient": "bottom", "values": [0, 100, 200, 300, 400, 500, 600, 700, 800], "title": "Time (s)", "grid": true, "gridColor": "#e2e8ec", "domainColor": "#7fa7c2", "tickColor": "#7fa7c2", "tickSize": -6}},
                    "y": {"field": "v", "type": "quantitative", "scale": {"domain": [0.82, 0.92], "nice": false, "zero": false},
                      "axis": {"orient": "left", "values": [0.82, 0.83, 0.84, 0.85, 0.86, 0.87, 0.88, 0.89, 0.9, 0.91, 0.92], "format": "~g", "title": "Incremental cost", "grid": true, "gridColor": "#e2e8ec", "domainColor": "#7fa7c2", "tickColor": "#7fa7c2", "tickSize": -6, "titlePadding": 7}},
                    "color": {"field": "s", "type": "nominal",
                      "scale": {"domain": ["ESS 1", "ESS 2", "ESS 3", "ESS 4", "ESS 5", "ESS 6", "ESS 7", "ESS 8"], "range": ["#0072BD", "#D95319", "#EDB120", "#7E2F8E", "#77AC30", "#D062C4", "#A2142F", "#000000"]},
                      "legend": {"orient": "bottom-right", "offset": 3, "direction": "horizontal", "columns": 8, "title": null, "symbolType": "stroke", "symbolSize": 100, "symbolStrokeWidth": 2, "labelFontSize": 14.5, "labelOffset": 1, "columnPadding": 1, "padding": 3, "fillColor": "#ffffff", "strokeColor": "#9a9a9a"}}
                  }
                },
                {
                  "data": {"name": "c"},
                  "mark": {"type": "point", "opacity": 0},
                  "encoding": {
                    "x": {"field": "t", "type": "quantitative", "axis": {"orient": "top", "labels": false, "title": null, "grid": false, "domainColor": "#7fa7c2", "tickColor": "#7fa7c2", "tickSize": -6, "values": [0, 100, 200, 300, 400, 500, 600, 700, 800]}},
                    "y": {"field": "v", "type": "quantitative", "axis": {"orient": "right", "labels": false, "title": null, "grid": false, "domainColor": "#7fa7c2", "tickColor": "#7fa7c2", "tickSize": -6, "values": [0.82, 0.83, 0.84, 0.85, 0.86, 0.87, 0.88, 0.89, 0.9, 0.91, 0.92]}}
                  }
                }
              ]
            }
          ],
          "spacing": 0,
          "bounds": "flush",
          "resolve": {"scale": {"color": "independent"}, "legend": {"color": "independent"}}
        }
      ]
    }
  ]
}
